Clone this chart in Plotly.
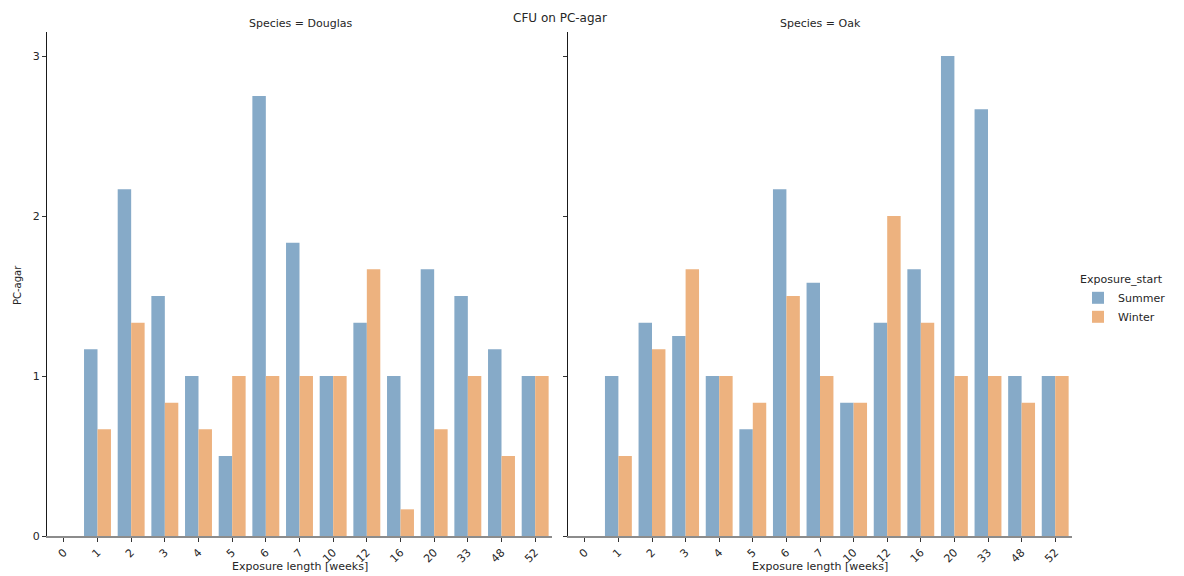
import plotly.graph_objects as go

weeks = ["0", "1", "2", "3", "4", "5", "6", "7", "10", "12", "16", "20", "33", "48", "52"]
douglas_summer = [0, 1.1667, 2.1667, 1.5, 1.0, 0.5, 2.75, 1.8333, 1.0, 1.3333, 1.0, 1.6667, 1.5, 1.1667, 1.0]
douglas_winter = [0, 0.6667, 1.3333, 0.8333, 0.6667, 1.0, 1.0, 1.0, 1.0, 1.6667, 0.1667, 0.6667, 1.0, 0.5, 1.0]
oak_summer = [0, 1.0, 1.3333, 1.25, 1.0, 0.6667, 2.1667, 1.5833, 0.8333, 1.3333, 1.6667, 3.0, 2.6667, 1.0, 1.0]
oak_winter = [0, 0.5, 1.1667, 1.6667, 1.0, 0.8333, 1.5, 1.0, 0.8333, 2.0, 1.3333, 1.0, 1.0, 0.8333, 1.0]
y_ticks = [0, 1, 2, 3]

C_SUMMER = "#86aac8"
C_WINTER = "#edb27f"
FONT = "DejaVu Sans"
TXT = "#262626"

fig = go.Figure()
fig.add_trace(go.Bar(x=weeks, y=douglas_summer, name="Summer", marker=dict(color=C_SUMMER, line=dict(width=0)),
                     xaxis="x", yaxis="y", legendgroup="Summer", offsetgroup="S"))
fig.add_trace(go.Bar(x=weeks, y=douglas_winter, name="Winter", marker=dict(color=C_WINTER, line=dict(width=0)),
                     xaxis="x", yaxis="y", legendgroup="Winter", offsetgroup="W"))
fig.add_trace(go.Bar(x=weeks, y=oak_summer, name="Summer", marker=dict(color=C_SUMMER, line=dict(width=0)),
                     xaxis="x2", yaxis="y2", legendgroup="Summer", offsetgroup="S", showlegend=False))
fig.add_trace(go.Bar(x=weeks, y=oak_winter, name="Winter", marker=dict(color=C_WINTER, line=dict(width=0)),
                     xaxis="x2", yaxis="y2", legendgroup="Winter", offsetgroup="W", showlegend=False))

# page has an 8px body margin: figure pixel = screen pixel - 8
OFF = 8
W, H = 1184 - OFF, 576 - OFF


def px(x):
    return (x - OFF) / W


def py(y):
    return 1 - (y - OFF) / H


xd1 = [px(47), px(552)]
xd2 = [px(568), px(1072)]
yd = [py(536), py(32)]

xcommon = dict(type="category", categoryorder="array", categoryarray=weeks, range=[-0.5, 14.5],
               showgrid=False, zeroline=False, showline=True, linecolor="#8c8c8c", linewidth=1.5,
               ticks="outside", ticklen=4, tickcolor="#333", tickangle=-45, automargin=False,
               tickfont=dict(family=FONT, size=11, color=TXT))
ycommon = dict(range=[0, 3.15], tickvals=y_ticks, showgrid=False, zeroline=False, showline=True,
               linecolor="#1a1a1a", linewidth=1.2, ticks="outside", ticklen=4, tickcolor="#333",
               automargin=False, tickfont=dict(family=FONT, size=11, color=TXT))

ann = dict(xref="paper", yref="paper", showarrow=False, xanchor="center", yanchor="middle")

fig.update_layout(
    width=W, height=H,
    margin=dict(l=0, r=0, t=0, b=0),
    paper_bgcolor="white", plot_bgcolor="white",
    barmode="group", bargap=0.2, bargroupgap=0,
    font=dict(family=FONT, size=11, color=TXT),
    xaxis=dict(domain=xd1, anchor="y", **xcommon),
    xaxis2=dict(domain=xd2, anchor="y2", **xcommon),
    yaxis=dict(domain=yd, anchor="x", **ycommon),
    yaxis2=dict(domain=yd, anchor="x2", showticklabels=False, **ycommon),
    legend=dict(x=px(1078), y=py(269), xanchor="left", yanchor="top",
                title=dict(text="Exposure_start", font=dict(family=FONT, size=11, color=TXT)),
                font=dict(family=FONT, size=11, color=TXT), bgcolor="rgba(0,0,0,0)",
                tracegroupgap=0, itemsizing="constant"),
    annotations=[
        dict(text="CFU on PC-agar", x=px(560), y=py(9), font=dict(family=FONT, size=12, color=TXT),
             xref="paper", yref="paper", showarrow=False, xanchor="center", yanchor="top"),
        dict(text="Species = Douglas", x=px(300), y=py(23), font=dict(family=FONT, size=11, color=TXT), **ann),
        dict(text="Species = Oak", x=px(820), y=py(23), font=dict(family=FONT, size=11, color=TXT), **ann),
        dict(text="Exposure length [weeks]", x=px(300), y=py(566), font=dict(family=FONT, size=11, color=TXT), **ann),
        dict(text="Exposure length [weeks]", x=px(820), y=py(566), font=dict(family=FONT, size=11, color=TXT), **ann),
        dict(text="PC-agar", x=px(17), y=py(285), textangle=-90, font=dict(family=FONT, size=10, color=TXT), **ann),
    ],
)

fig.write_html("out.html")
